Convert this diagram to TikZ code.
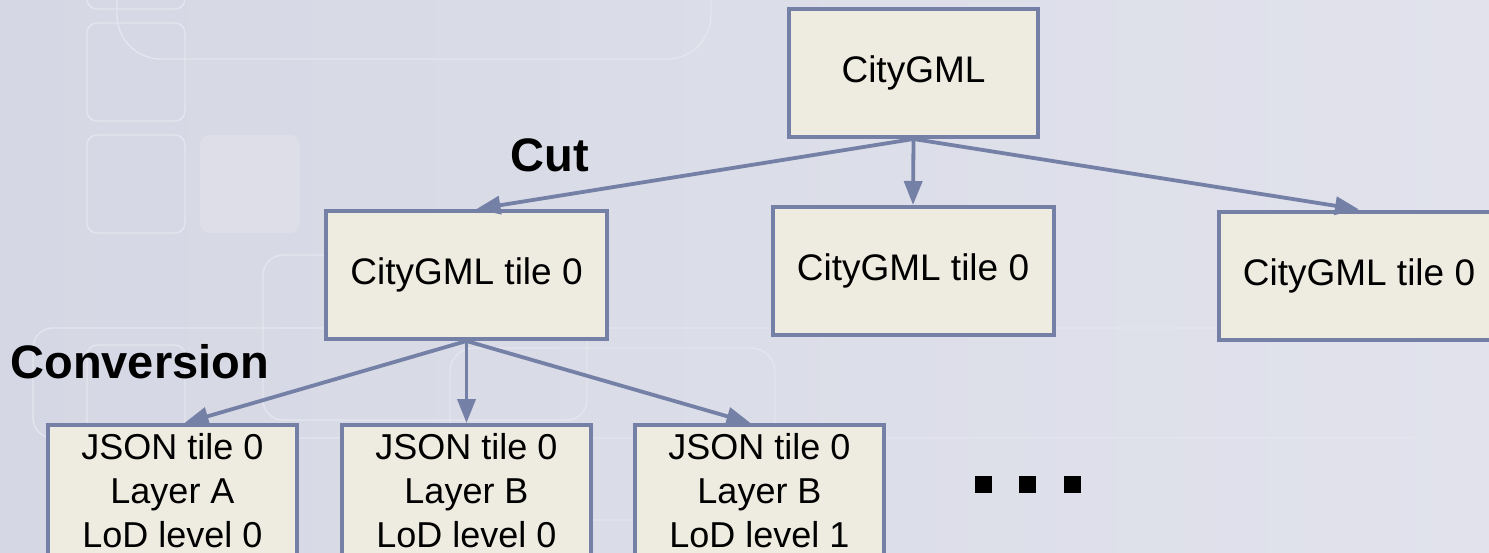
\documentclass[tikz,border=0pt]{standalone}
\usepackage{fontspec}
\setmainfont{Liberation Sans}
\usetikzlibrary{arrows.meta}

\definecolor{bgleft}{RGB}{213,216,228}
\definecolor{bgright}{RGB}{225,226,236}
\definecolor{ghost}{RGB}{228,229,238}
\definecolor{ghostfill}{RGB}{221,222,232}
\definecolor{boxfill}{RGB}{238,236,225}
\definecolor{edge}{RGB}{116,128,166}

\begin{document}
\begin{tikzpicture}[x=0.5pt,y=-0.5pt,
  card/.style={draw=edge, fill=boxfill, line width=2pt, inner sep=0pt,
    align=center, font=\fontsize{18.5}{22}\selectfont},
  tilebox/.style={card, minimum width=140.5pt, minimum height=64pt},
  jsonbox/.style={card, minimum width=124.5pt, minimum height=65.5pt,
    anchor=north, font=\fontsize{18}{22}\selectfont},
  flow/.style={draw=edge, line width=1.9pt, -{Triangle[length=12pt,width=9pt]}},
  stage/.style={font=\fontsize{23.5}{28}\selectfont\bfseries, inner sep=0pt,
    anchor=base west},
  ghostline/.style={draw=ghost, line width=0.7pt},
  dot/.style={fill=black, minimum size=8.5pt, inner sep=0pt}]

\useasboundingbox (0,0) rectangle (1489,552);

% background with soft template shapes
\shade[left color=bgleft, right color=bgright] (0,0) rectangle (1489,552);
\begin{scope}[ghostline]
  \draw[rounded corners=5pt]  (87,-60)  rectangle (185,9);
  \draw[rounded corners=22pt] (117,-200) rectangle (711,59);
  \draw[rounded corners=5pt]  (87,23)   rectangle (185,121);
  \draw[rounded corners=5pt]  (87,135)  rectangle (185,233);
  \draw[rounded corners=10pt] (263,255) rectangle (587,420);
  \draw[rounded corners=10pt] (33,328)  rectangle (1600,438);
  \draw[rounded corners=12pt] (450,348) rectangle (775,520);
  \draw[rounded corners=5pt]  (87,345)  rectangle (185,520);
\end{scope}
\fill[ghostfill, rounded corners=5pt] (200,135) rectangle (300,233);

% source file and its tiles
\node[tilebox, minimum width=124.5pt] (gml) at (913.5,73) {CityGML};
\node[tilebox] (t0) at (466.5,275) {CityGML tile 0};
\node[tilebox] (t1) at (913,271) {CityGML tile 0};
\node[tilebox] (t2) at (1359,275.5) {CityGML tile 0};

% converted layers of the first tile
\node[jsonbox] (j0) at (172.5,423) {JSON tile 0\\Layer A\\LoD level 0};
\node[jsonbox] (j1) at (466.5,423) {JSON tile 0\\Layer B\\LoD level 0};
\node[jsonbox] (j2) at (759.5,423) {JSON tile 0\\Layer B\\LoD level 1};

% stage labels
\node[stage] (cut) at (510,171) {Cut};
\node[stage] (conv) at (10,378) {Conversion};

% connectors
\draw[flow] (gml.south) -- ([xshift=5pt]t0.north);
\draw[flow] (gml.south) -- (t1.north);
\draw[flow] (gml.south) -- (t2.north);
\draw[flow] (t0.south) -- ([xshift=6pt]j0.north);
\draw[flow] (t0.south) -- (j1.north);
\draw[flow] (t0.south) -- ([xshift=-4.5pt]j2.north);

% ellipsis
\node[dot] (d1) at (983.5,484.5) {};
\node[dot] (d2) at (1027.5,484.5) {};
\node[dot] (d3) at (1072.5,484.5) {};
\end{tikzpicture}
\end{document}
